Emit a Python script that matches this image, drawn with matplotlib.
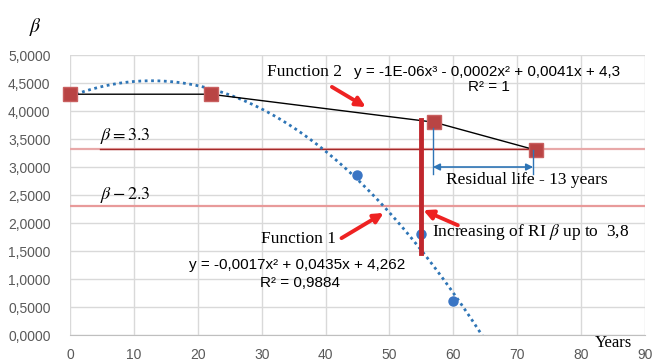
import numpy as np
import matplotlib
matplotlib.use("Agg")
import matplotlib.pyplot as plt

# Function 2 points (red squares) and Function 1 points (blue dots)
years_f2 = [0, 22, 57, 73]
beta_f2 = [4.3, 4.3, 3.8, 3.3]
years_f1 = [0, 22, 45, 55, 60]
beta_f1 = [4.3, 4.3, 2.85, 1.8, 0.6]

# trendline of Function 1 as written on the chart
coef_f1 = [-0.0017, 0.0435, 4.262]

beta_upper = 3.33
beta_lower = 2.3
x_ticks = list(range(0, 100, 10))
y_ticks = [0, 0.5, 1, 1.5, 2, 2.5, 3, 3.5, 4, 4.5, 5]

serif = "Liberation Serif"
sans = "Liberation Sans"
plt.rcParams["mathtext.fontset"] = "stix"

fig = plt.figure(figsize=(6.53, 3.6), dpi=100)
ax = fig.add_axes([0.1072, 0.0694, 0.8805, 0.7778])

ax.set_xlim(0, 90)
ax.set_ylim(0, 5)
ax.set_xticks(x_ticks)
ax.set_yticks(y_ticks)
ax.set_xticklabels([str(t) for t in x_ticks], fontsize=10, color="#595959", family=sans)
ax.set_yticklabels([("%.4f" % t).replace(".", ",") for t in y_ticks],
                   fontsize=10, color="#595959", family=sans)
ax.tick_params(axis="y", length=0, pad=14)
ax.tick_params(axis="x", length=0, pad=9)
ax.grid(True, color="#D9D9D9", lw=1)
ax.set_axisbelow(True)
for s in ["top", "right", "left"]:
    ax.spines[s].set_visible(False)
ax.spines["bottom"].set_color("#BFBFBF")

# horizontal reliability levels
ax.axhline(beta_upper, color="#E8A8A8", lw=1.6, zorder=2)
ax.plot([4.7, 73], [beta_upper, beta_upper], color="#A52A2A", lw=1, zorder=2)
ax.axhline(beta_lower, color="#E89A9A", lw=1.6, zorder=2)

# Function 1 trendline
xt = np.linspace(0, 66, 300)
ax.plot(xt, np.polyval(coef_f1, xt), color="#2E75B6", lw=2, ls=(0, (1, 1.3)), zorder=3)
ax.plot(years_f1, beta_f1, "o", color="#3A75C4", ms=6.5, zorder=4, clip_on=False)

# Function 2
ax.plot(years_f2, beta_f2, color="black", lw=1, zorder=4)
ax.plot(years_f2, beta_f2, "s", color="#B94444", mec="#C96060", ms=10, zorder=5,
        clip_on=False)

# red vertical bar (repair)
ax.plot([55, 55], [1.46, 3.84], color="#C0272D", lw=3.5, zorder=6)

# residual life markers
ax.plot([56.8, 56.8], [2.88, 3.7], color="#2E75B6", lw=1, zorder=6)
ax.plot([72.5, 72.5], [2.88, 3.3], color="#2E75B6", lw=1, zorder=6)
ax.annotate("", xy=(56.8, 3.0), xytext=(72.5, 3.0),
            arrowprops=dict(arrowstyle="<|-|>", color="#2E75B6", lw=1.2,
                            mutation_scale=10, shrinkA=0, shrinkB=0), zorder=6)
ax.text(58.8, 2.77, "Residual life - 13 years", fontsize=12.5, family=serif, va="center")

# red arrows
arrow = dict(arrowstyle="-|>", color="#EE2222", lw=2.8, mutation_scale=14, shrinkA=0, shrinkB=0)
ax.annotate("", xy=(46.3, 4.07), xytext=(41.0, 4.43), arrowprops=arrow)
ax.annotate("", xy=(49.1, 2.18), xytext=(42.5, 1.73), arrowprops=arrow)
ax.annotate("", xy=(55.3, 2.23), xytext=(60.7, 1.96), arrowprops=arrow)

# labels
ax.text(30.8, 4.7, "Function 2", fontsize=12.5, family=serif, va="center")
ax.text(44.4, 4.7, "y = -1E-06x³ - 0,0002x² + 0,0041x + 4,3", fontsize=11,
        family=sans, va="center")
ax.text(65.5, 4.43, "R² = 1", fontsize=11, family=sans, va="center", ha="center")
ax.text(4.7, 3.56, r"$\beta = 3.3$", fontsize=13, va="center")
ax.text(4.7, 2.5, r"$\beta - 2.3$", fontsize=13, va="center")
ax.text(29.9, 1.71, "Function 1", fontsize=12.5, family=serif, va="center")
ax.text(18.6, 1.25, "y = -0,0017x² + 0,0435x + 4,262", fontsize=11, family=sans, va="center")
ax.text(29.7, 0.93, "R² = 0,9884", fontsize=11, family=sans, va="center")
ax.text(56.6, 1.84, r"Increasing of RI $\beta$ up to  3,8", fontsize=12.5, family=serif,
        va="center")

fig.text(0.911, 0.048, "Years", fontsize=12, family=serif, va="center")
fig.text(0.045, 0.925, r"$\beta$", fontsize=14, va="center")

fig.savefig("out.png", dpi=100)
